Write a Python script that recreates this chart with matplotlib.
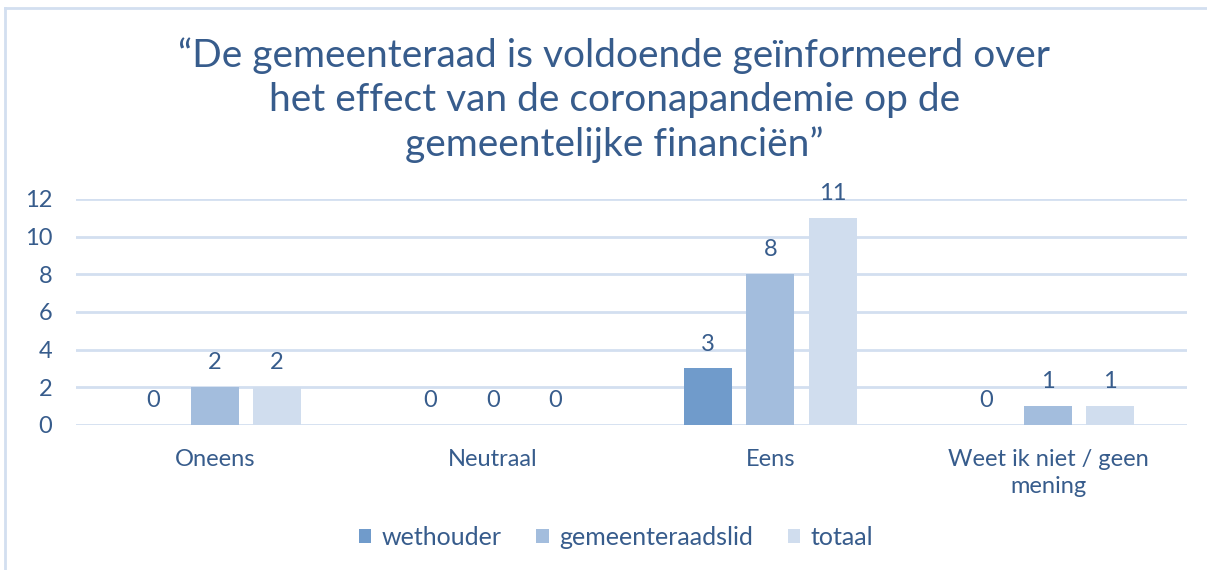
import numpy as np
import matplotlib.pyplot as plt
from matplotlib.lines import Line2D

categories = ['Oneens', 'Neutraal', 'Eens', 'Weet ik niet / geen\nmening']
series = ['wethouder', 'gemeenteraadslid', 'totaal']
values = {
    'wethouder': [0, 0, 3, 0],
    'gemeenteraadslid': [2, 0, 8, 1],
    'totaal': [2, 0, 11, 1],
}
colors = ['#709BCB', '#A3BDDD', '#D0DDEE']
title = '\u201cDe gemeenteraad is voldoende ge\u00efnformeerd over\nhet effect van de coronapandemie op de\ngemeentelijke financi\u00ebn\u201d'

text_color = '#375C8C'
grid_color = '#D3DFF0'
plt.rcParams['font.family'] = ['Lato', 'DejaVu Sans']

fig = plt.figure(figsize=(12.07, 5.70), dpi=100)
ax = fig.add_axes([0.063, 0.2544, 0.9204, 0.3966])

x = np.arange(len(categories))
width = 0.173
step = 0.224
for i, (name, col) in enumerate(zip(series, colors)):
    pos = x + (i - 1) * step
    ax.bar(pos, values[name], width, color=col, label=name, zorder=3)
    for p, v in zip(pos, values[name]):
        ax.annotate(str(v), (p, v), xytext=(0, 10), textcoords='offset points',
                    ha='center', va='bottom', fontsize=17, color=text_color)

ax.set_xlim(-0.5, 3.5)
ax.set_ylim(0, 12)
ax.set_yticks(range(0, 13, 2))
ax.set_xticks(x)
ax.set_xticklabels(categories, linespacing=1.35)
ax.tick_params(axis='both', length=0, colors=text_color, labelsize=17)
ax.tick_params(axis='y', pad=17)
ax.tick_params(axis='x', pad=17)
ax.yaxis.grid(True, color=grid_color, linewidth=2, zorder=0)
for s in ax.spines.values():
    s.set_visible(False)

fig.text(0.509, 1 - 100/570, title, ha='center', va='center', fontsize=28,
         color=text_color, linespacing=1.27)

ax.legend(loc='center', bbox_to_anchor=(0.486, -0.496), ncol=3, frameon=False,
          fontsize=18, labelcolor=text_color, handlelength=0.5, handleheight=0.5,
          handletextpad=0.4, columnspacing=1.4)

# chart frame
fig.add_artist(Line2D([5/1207, 1], [1 - 8/570, 1 - 8/570], color=grid_color, linewidth=2))
fig.add_artist(Line2D([5/1207, 5/1207], [0, 1 - 8/570], color=grid_color, linewidth=2))

fig.savefig('out.png', dpi=100)
